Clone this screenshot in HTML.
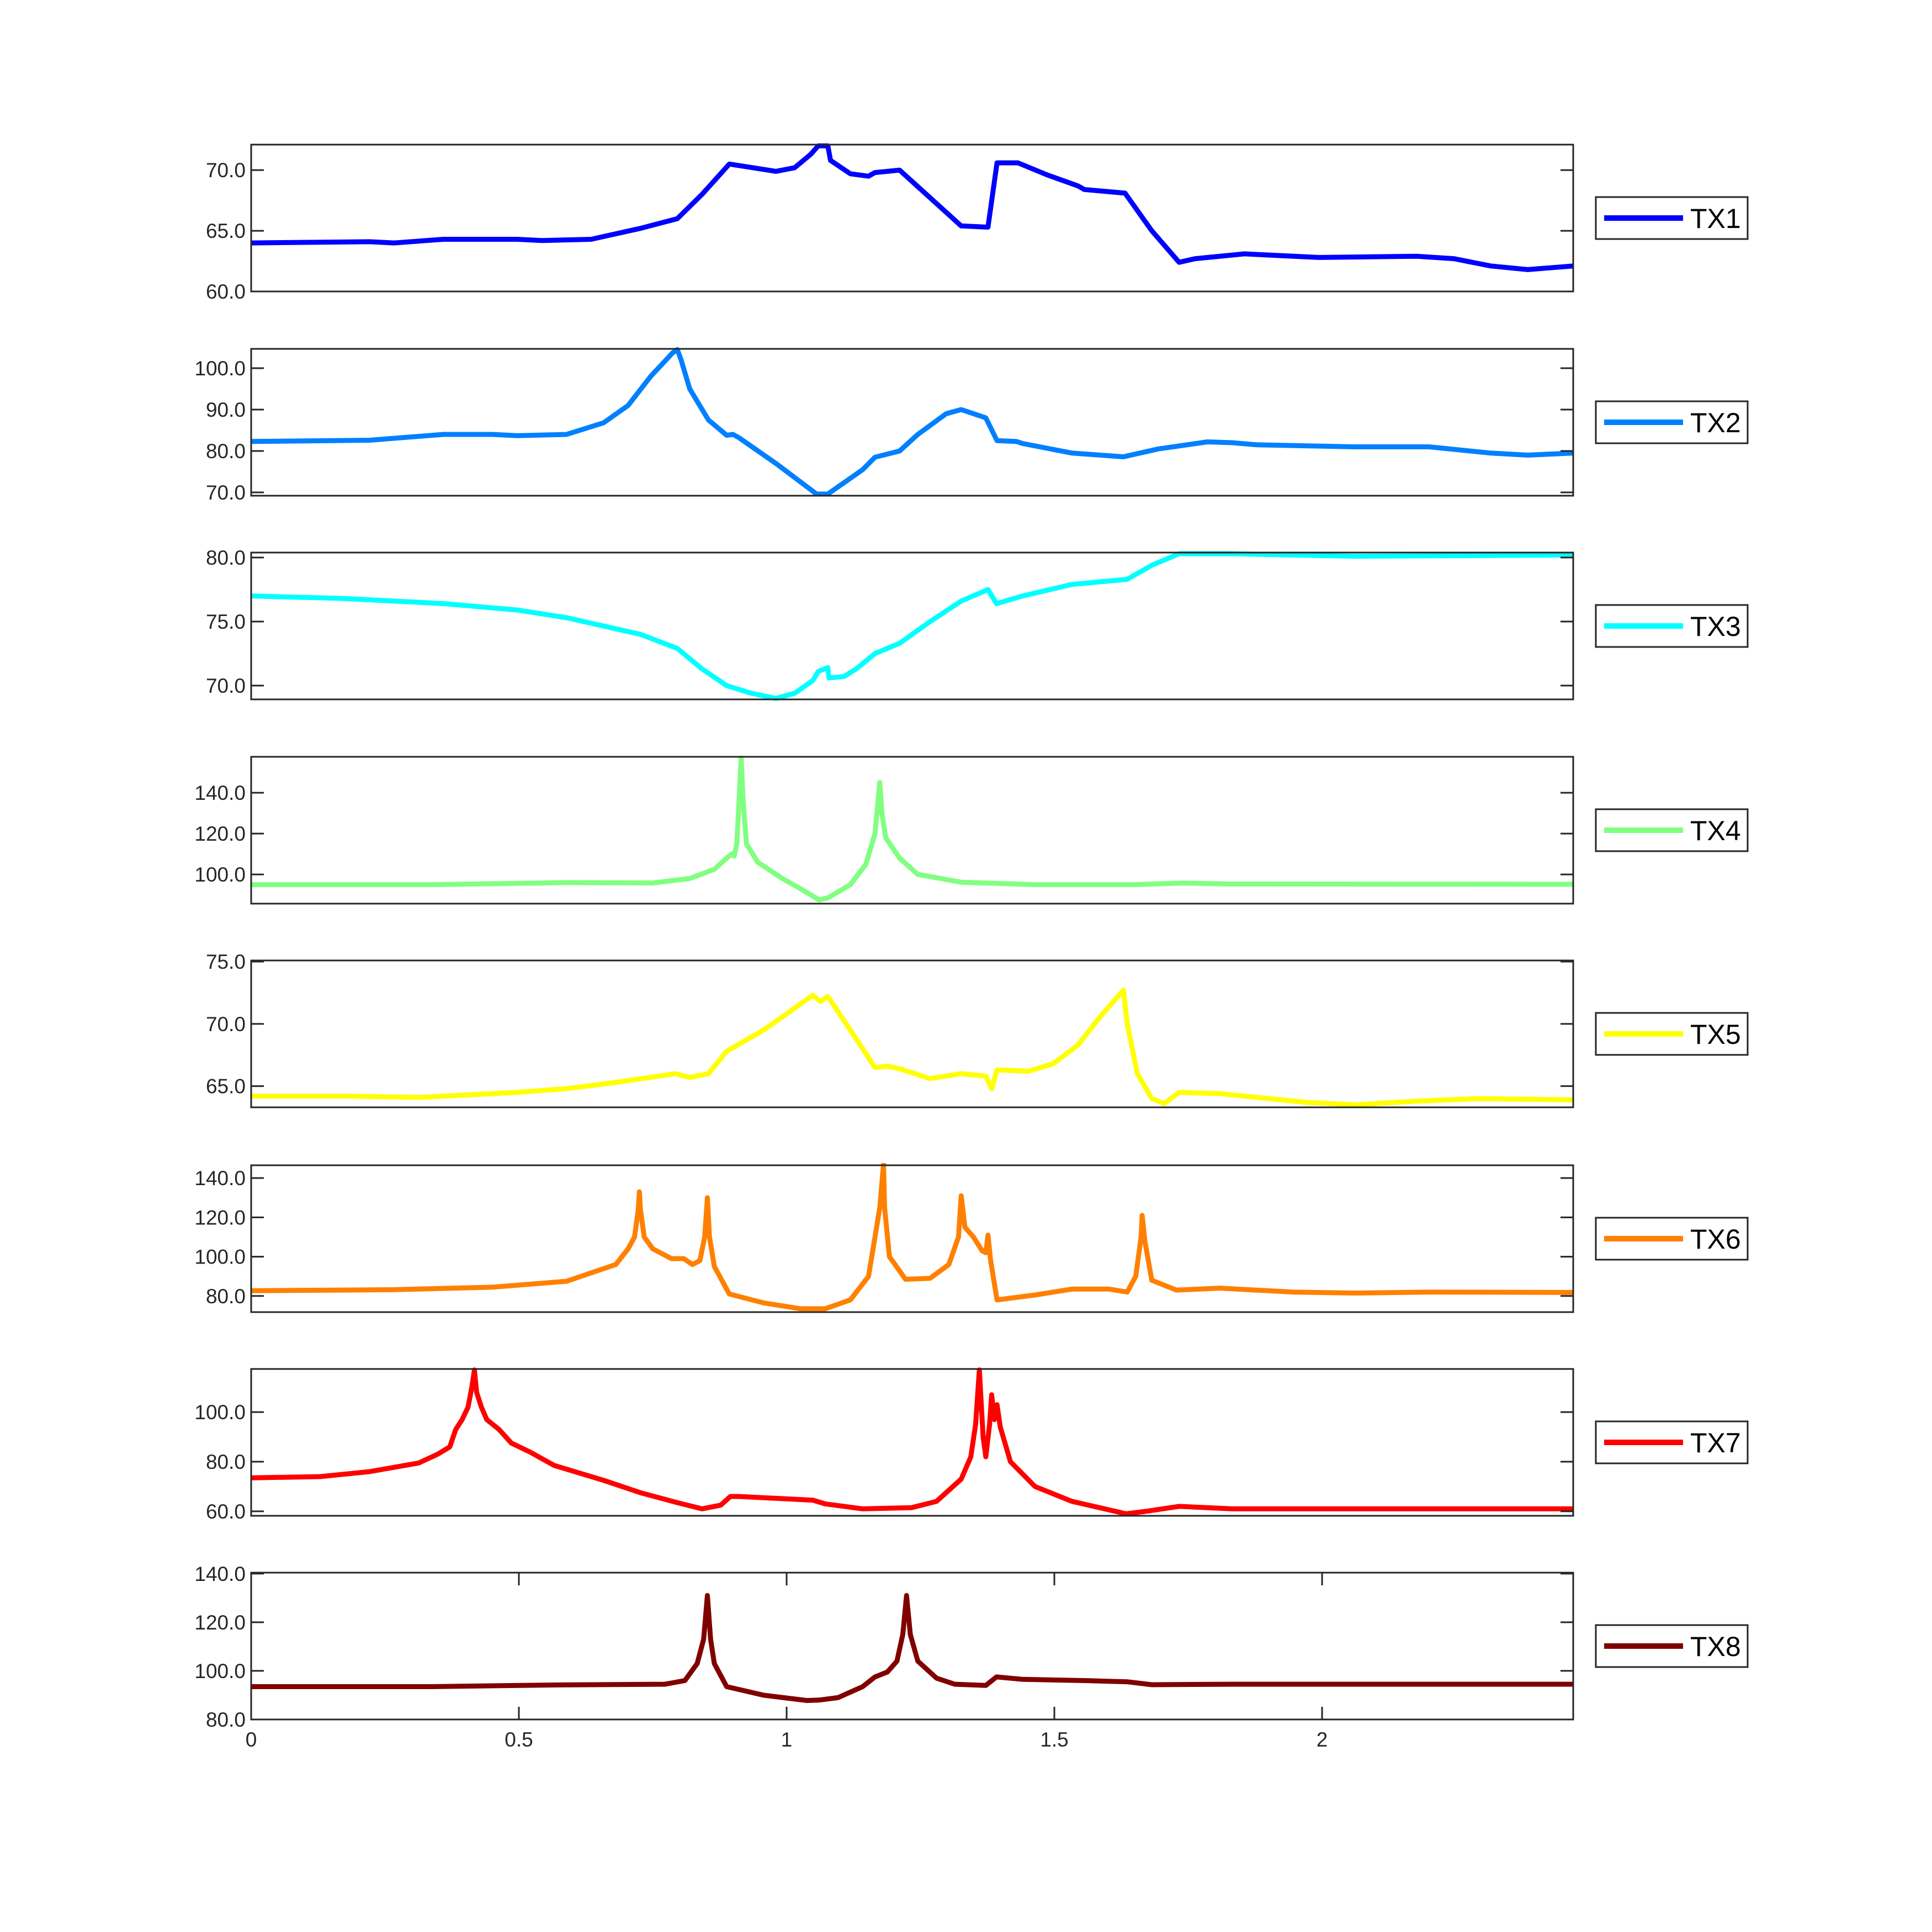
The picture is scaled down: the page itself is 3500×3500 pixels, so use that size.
<!DOCTYPE html>
<html><head><meta charset="utf-8"><style>
html,body{margin:0;padding:0;background:#fff}
svg{display:block}
text{font-family:"Liberation Sans",Arial,sans-serif}
</style></head><body>
<svg id="chart" width="3500" height="3500" viewBox="0 0 3500 3500" xmlns="http://www.w3.org/2000/svg"></svg>
<script>
const seriesNames=["TX1","TX2","TX3","TX4","TX5","TX6","TX7","TX8"];
const seriesColors=["#0000ff","#0080ff","#00ffff","#80ff80","#ffff00","#ff8000","#ff0000","#800000"];
const yMins=[60,69.2,68.92,85.7,63.3,71.8,58.2,80];
const yMaxs=[72.1,104.67,80.39,157.6,75.09,146.5,117.4,140.4];
const yTicks=[[60,65,70],[70,80,90,100],[70,75,80],[100,120,140],[65,70,75],[80,100,120,140],[60,80,100],[80,100,120,140]];
const xTicks=[0,0.5,1,1.5,2];
const xTickLabels=["0","0.5","1","1.5","2"];
const tx1X=[0,0.221,0.267,0.359,0.497,0.543,0.635,0.727,0.796,0.842,0.893,0.980,1.015,1.045,1.059,1.077,1.082,1.119,1.153,1.165,1.211,1.326,1.376,1.393,1.432,1.487,1.544,1.556,1.632,1.682,1.733,1.763,1.855,1.993,2.177,2.246,2.315,2.384,2.469];
const tx1Y=[64.0,64.1,64.0,64.3,64.3,64.2,64.3,65.2,66.0,68.0,70.5,69.9,70.2,71.3,72.0,72.0,70.8,69.7,69.5,69.8,70.0,65.4,65.3,70.6,70.6,69.6,68.7,68.4,68.1,65.0,62.4,62.7,63.1,62.8,62.9,62.7,62.1,61.8,62.1];
const tx2X=[0,0.221,0.359,0.451,0.497,0.589,0.658,0.704,0.746,0.787,0.796,0.803,0.819,0.854,0.888,0.900,0.911,0.980,1.056,1.077,1.142,1.165,1.211,1.245,1.298,1.326,1.372,1.393,1.429,1.441,1.533,1.629,1.694,1.786,1.832,1.878,2.062,2.200,2.315,2.384,2.469];
const tx2Y=[82.3,82.6,84.0,84.0,83.7,84.0,86.8,91.0,98.0,103.7,104.5,102,95,87.5,83.8,84.0,83.2,77.0,69.6,69.6,75.5,78.5,80.0,84.0,89.0,90.0,88.0,82.5,82.3,81.8,79.5,78.6,80.5,82.2,82.0,81.5,81.0,81.0,79.5,79.0,79.5];
const tx3X=[0,0.175,0.359,0.497,0.589,0.727,0.796,0.842,0.888,0.934,0.980,1.015,1.049,1.059,1.077,1.079,1.107,1.130,1.165,1.211,1.268,1.326,1.376,1.392,1.441,1.533,1.636,1.682,1.733,1.832,2.062,2.469];
const tx3Y=[77.0,76.8,76.4,75.9,75.3,74.0,72.9,71.3,70.0,69.4,69.0,69.4,70.4,71.1,71.4,70.6,70.7,71.3,72.5,73.3,75.0,76.6,77.5,76.4,77.0,77.9,78.3,79.4,80.3,80.3,80.1,80.2];
const tx4X=[0,0.336,0.589,0.750,0.819,0.865,0.888,0.898,0.902,0.907,0.911,0.915,0.919,0.925,0.946,0.992,1.026,1.061,1.077,1.119,1.148,1.165,1.174,1.178,1.185,1.211,1.245,1.326,1.464,1.648,1.740,1.832,2.469];
const tx4Y=[95.0,95.0,96.0,95.8,98,102.5,108,110,109,115,135,157,135,115,106,98,93,87.5,88.5,95,105,120,145,130,118,108,100,96.2,95,95,95.8,95.3,95.2];
const tx5X=[0,0.175,0.313,0.497,0.589,0.681,0.792,0.819,0.854,0.888,0.957,1.049,1.063,1.077,1.119,1.165,1.188,1.211,1.268,1.326,1.372,1.383,1.393,1.452,1.498,1.544,1.590,1.629,1.636,1.655,1.682,1.705,1.733,1.809,1.970,2.062,2.177,2.292,2.469];
const tx5Y=[64.2,64.2,64.1,64.5,64.8,65.3,66.0,65.7,66.0,67.8,69.5,72.3,71.8,72.2,69.5,66.5,66.6,66.4,65.6,66.0,65.8,64.8,66.3,66.2,66.8,68.3,70.8,72.7,70,66,64.0,63.6,64.5,64.4,63.7,63.5,63.8,64.0,63.9];
const tx6X=[0,0.267,0.451,0.589,0.681,0.704,0.716,0.723,0.725,0.727,0.734,0.750,0.785,0.808,0.824,0.838,0.847,0.852,0.856,0.865,0.893,0.957,1.026,1.072,1.119,1.153,1.162,1.174,1.181,1.183,1.192,1.222,1.268,1.303,1.321,1.326,1.333,1.349,1.365,1.372,1.376,1.381,1.393,1.464,1.533,1.602,1.636,1.652,1.662,1.664,1.669,1.682,1.728,1.809,1.947,2.062,2.200,2.469];
const tx6Y=[82.7,83.2,84.5,87.5,96,104,110,124,133,124,110,104,99,99,96,98,110,130,110,95,81,76.5,73.5,73.5,78,90,105,125,147,125,100,88.5,89,96,110,131,115,110,103,102,111,98,78,80.5,83.5,83.5,82,90,110,121,108,88,83,84,82,81.5,82,81.8];
const tx7X=[0,0.129,0.221,0.313,0.348,0.371,0.382,0.394,0.405,0.412,0.417,0.421,0.430,0.440,0.463,0.486,0.520,0.566,0.658,0.727,0.796,0.842,0.877,0.895,0.911,1.049,1.072,1.142,1.234,1.280,1.326,1.344,1.353,1.360,1.367,1.372,1.379,1.383,1.388,1.393,1.399,1.418,1.464,1.533,1.634,1.671,1.733,1.832,2.062,2.469];
const tx7Y=[73.5,74.0,76.0,79.5,83.0,86,93,97,102,110,117,108,102,97,93,87.5,84,78.5,72.5,67.5,63.5,61,62.5,66.0,66,64.5,63,61.0,61.5,64,73,82,95,117,90,82,95,107,97,103,94,80,70,64,59,60,62,61,61,61];
const tx8X=[0,0.336,0.566,0.773,0.810,0.833,0.845,0.852,0.858,0.865,0.888,0.957,1.038,1.061,1.096,1.142,1.165,1.188,1.206,1.217,1.224,1.231,1.245,1.280,1.314,1.372,1.392,1.441,1.556,1.636,1.682,1.832,2.469];
const tx8Y=[93.5,93.5,94.2,94.5,96,103,113,131,113,103,93.5,90,87.8,88,89,93.5,97.5,99.5,104,115,131,115,104,97,94.5,94.0,97.5,96.5,96,95.5,94.3,94.5,94.5];
const allX=[tx1X,tx2X,tx3X,tx4X,tx5X,tx6X,tx7X,tx8X];
const allY=[tx1Y,tx2Y,tx3Y,tx4Y,tx5Y,tx6Y,tx7Y,tx8Y];

const NS="http://www.w3.org/2000/svg";
const svg=document.getElementById("chart");
const L=455,R=2850,xMin=0,xMax=2.469;
const tops=[262,632,1001,1371,1740,2111,2480,2849];
const H=266;
function xs(v){return L+(v-xMin)/(xMax-xMin)*(R-L);}
function mk(tag,attrs,parent){const e=document.createElementNS(NS,tag);for(const k in attrs)e.setAttribute(k,attrs[k]);(parent||svg).appendChild(e);return e;}

for(let i=0;i<8;i++){
  const top=tops[i],bot=top+H;
  const ys=v=>bot-(v-yMins[i])/(yMaxs[i]-yMins[i])*H;
  const g=mk("g",{});
  
  
  const cp=mk("clipPath",{id:"cp"+i},g);
  mk("rect",{x:L,y:top-4,width:R-L,height:H+8},cp);
  const xa=allX[i],ya=allY[i];
  let d="";
  for(let k=0;k<xa.length;k++)d+=(k?"L":"M")+xs(xa[k]).toFixed(1)+","+ys(ya[k]).toFixed(1);
  const p=mk("path",{d:d,fill:"none",stroke:seriesColors[i],"stroke-width":9,"stroke-linejoin":"round","clip-path":"url(#cp"+i+")"},g);
  
  
  const box=mk("rect",{x:L,y:top,width:R-L,height:H,fill:"none",stroke:"#262626","stroke-width":3},g);
  
  
  for(const t of yTicks[i]){
    const y=ys(t);
    mk("line",{x1:L,x2:L+23,y1:y,y2:y,stroke:"#262626","stroke-width":3},g);
    mk("line",{x1:R-23,x2:R,y1:y,y2:y,stroke:"#262626","stroke-width":3},g);
    const tl=mk("text",{x:L-10,y:y+13,"text-anchor":"end","font-size":37,fill:"#262626"},g);
    tl.textContent=t.toFixed(1);
    
    
  }
  const ly=top+H/2;
  const lg=mk("g",{},g);
  
  
  mk("rect",{x:2891,y:ly-38,width:275,height:76,fill:"#fff",stroke:"#262626","stroke-width":3},lg);
  mk("line",{x1:2906,x2:3049,y1:ly,y2:ly,stroke:seriesColors[i],"stroke-width":10},lg);
  const lt=mk("text",{x:3062,y:ly+18,"font-size":50,fill:"#000"},lg);
  lt.textContent=seriesNames[i];
}
const top8=tops[7],bot8=top8+H;
for(let k=0;k<xTicks.length;k++){
  const x=xs(xTicks[k]);
  mk("line",{x1:x,x2:x,y1:top8,y2:top8+23,stroke:"#262626","stroke-width":3});
  mk("line",{x1:x,x2:x,y1:bot8-23,y2:bot8,stroke:"#262626","stroke-width":3});
  const t=mk("text",{x:x,y:bot8+49,"text-anchor":"middle","font-size":37,fill:"#262626"});
  t.textContent=xTickLabels[k];
  
  
}
</script>
</body></html>
